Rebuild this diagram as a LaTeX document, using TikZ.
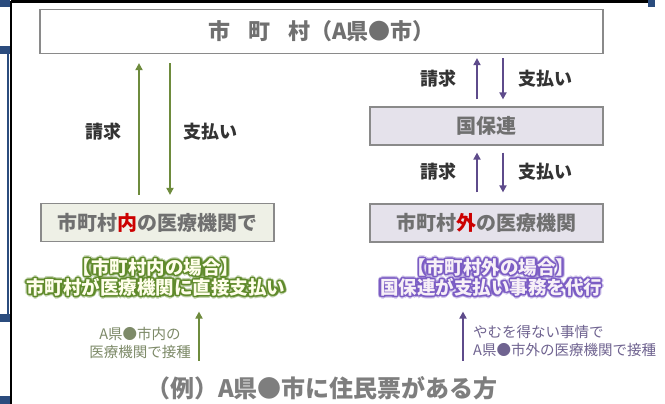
\documentclass[tikz,border=0pt]{standalone}
\usepackage{fontspec}
\setmainfont{Noto Sans CJK JP}
\usetikzlibrary{arrows.meta,calc}

\definecolor{boxline}{HTML}{8A8A8A}
\definecolor{boxtext}{HTML}{707070}
\definecolor{infill}{HTML}{EEF0E6}
\definecolor{outfill}{HTML}{E5E2EB}
\definecolor{grn}{HTML}{6E8B3D}
\definecolor{grnglow}{HTML}{5F8A2A}
\definecolor{grnnote}{HTML}{7D8A68}
\definecolor{prp}{HTML}{5E4B8B}
\definecolor{prpglow}{HTML}{7B5CC4}
\definecolor{prpnote}{HTML}{6F6390}
\definecolor{mark}{HTML}{CC0000}
\definecolor{frameblue}{HTML}{2B4C7E}

\tikzset{
  place/.style={draw=boxline,line width=1.2pt,text=boxtext,font=\fontsize{20}{22}\selectfont\bfseries,
    minimum width=233pt,minimum height=38pt,inner sep=0pt},
  garrow/.style={grn,line width=2.6pt,-{Triangle[length=7pt,width=7pt]}},
  parrow/.style={prp,line width=2.6pt,-{Triangle[length=7pt,width=7pt]}},
  lab/.style={font=\fontsize{18}{20}\selectfont\bfseries,text=black!80},
  glow/.style={font=\fontsize{18.5}{20}\selectfont\bfseries,align=center,inner sep=0pt},
  note/.style={font=\fontsize{14.5}{18}\selectfont,inner sep=0pt}
}

\newcommand{\inText}{【市町村内の場合】\\市町村が医療機関に直接支払い}
\newcommand{\outText}{【市町村外の場合】\\国保連が支払い事務を代行}

\begin{document}
\begin{tikzpicture}[x=1pt,y=-1pt]
  \useasboundingbox[fill=white] (0,0) rectangle (665,404);
  % frame of the screenshot
  \fill[frameblue] (0,0) rectangle (10,7);
  \fill[frameblue] (0,46) rectangle (10,54);
  \fill[frameblue] (0,314) rectangle (10,322);
  \fill[frameblue] (0,396) rectangle (10,404);
  \fill[frameblue] (648,0) rectangle (655,7);
  \draw[frameblue,line width=1.5pt] (8,50) -- (8,318);
  \draw[black,line width=3pt] (11,2) -- (648,2);
  \draw[black,line width=2.5pt] (11,1) -- (11,404);

  % boxes
  \node[place,fill=white,minimum width=563pt,minimum height=44pt,font=\fontsize{22}{24}\selectfont\bfseries]
    (town) at (321.5,31.5) {市\hspace{18pt}町\hspace{18pt}村（A県●市）};
  \node[place,fill=infill] (inbox) at (157.5,222.5) {市町村{\color{mark}内}の医療機関で};
  \node[place,fill=outfill] (kbox) at (486.5,126) {国保連};
  \node[place,fill=outfill] (outbox) at (486.5,223) {市町村{\color{mark}外}の医療機関};

  % left side: inside the town
  \coordinate (gup) at (139,0);
  \coordinate (gdown) at (170,0);
  \draw[garrow,shorten <=8pt,shorten >=9pt] (inbox.north -| gup) -- (town.south -| gup);
  \draw[garrow,shorten <=9pt,shorten >=8pt] (town.south -| gdown) -- (inbox.north -| gdown);
  \node[lab] (ask1) at (103,132) {請求};
  \node[lab] (pay1) at (210,132) {支払い};

  % right side: outside the town
  \coordinate (pup) at (477,0);
  \coordinate (pdown) at (503,0);
  \draw[parrow,shorten <=7pt,shorten >=4pt] (kbox.north -| pup) -- (town.south -| pup);
  \draw[parrow,shorten <=4pt,shorten >=7pt] (town.south -| pdown) -- (kbox.north -| pdown);
  \draw[parrow,shorten <=11pt,shorten >=7pt] (outbox.north -| pup) -- (kbox.south -| pup);
  \draw[parrow,shorten <=7pt,shorten >=11pt] (kbox.south -| pdown) -- (outbox.north -| pdown);
  \node[lab] (ask2) at (438,79) {請求};
  \node[lab] (pay2) at (545,79) {支払い};
  \node[lab] (ask3) at (438,172) {請求};
  \node[lab] (pay3) at (545,172) {支払い};

  % glowing captions
  \foreach \a in {0,30,...,330} {
    \node[glow,text=grnglow,opacity=0.35] at ($(156,277.5)+(\a:2.6)$) {\inText};
    \node[glow,text=grnglow] at ($(156,277.5)+(\a:1.4)$) {\inText};
    \node[glow,text=prpglow,opacity=0.35] at ($(491,277.5)+(\a:2.6)$) {\outText};
    \node[glow,text=prpglow] at ($(491,277.5)+(\a:1.4)$) {\outText};
  }
  \node[glow,text=white!92!yellow] (incase) at (156,277.5) {\inText};
  \node[glow,text=white!94!violet] (outcase) at (491,277.5) {\outText};

  % who gets the shot where
  \node[font=\fontsize{24}{26}\selectfont\bfseries,text=boxtext!90] (who) at (322,388) {（例）A県●市に住民票がある方};
  \coordinate (gnote) at (199,0);
  \coordinate (pnote) at (463,0);
  \draw[garrow,line width=2.2pt,shorten <=12pt,shorten >=15pt] (who.north -| gnote) -- (incase.south -| gnote);
  \draw[parrow,line width=2.2pt,shorten <=12pt,shorten >=15pt] (who.north -| pnote) -- (outcase.south -| pnote);
  \node[note,text=grnnote,align=center] (innote) at (140,342.5) {A県●市内の\\医療機関で接種};
  \node[note,text=prpnote,align=left,anchor=west] (outnote) at (473,341.5) {やむを得ない事情で\\A県●市外の医療機関で接種};
\end{tikzpicture}
\end{document}
